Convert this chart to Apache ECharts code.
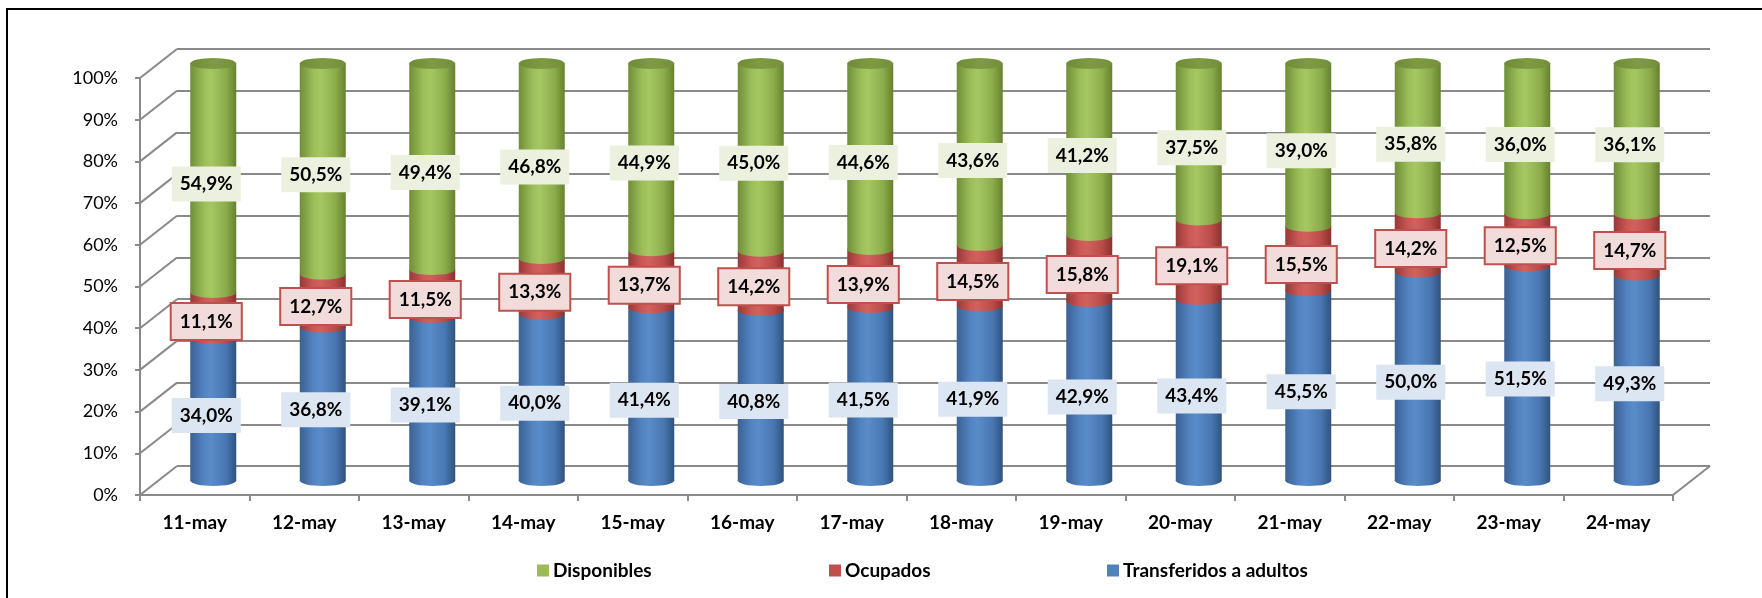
<!DOCTYPE html>
<html><head><meta charset="utf-8">
<script src="https://cdn.jsdelivr.net/npm/echarts@6/dist/echarts.min.js"></script>
<style>html,body{margin:0;padding:0;background:#fff}#c{width:1762px;height:598px}</style>
</head><body><div id="c"></div>
<script>
const categories = ['11-may','12-may','13-may','14-may','15-may','16-may','17-may','18-may','19-may','20-may','21-may','22-may','23-may','24-may'];
const disponibles  = [54.9, 50.5, 49.4, 46.8, 44.9, 45.0, 44.6, 43.6, 41.2, 37.5, 39.0, 35.8, 36.0, 36.1];
const ocupados     = [11.1, 12.7, 11.5, 13.3, 13.7, 14.2, 13.9, 14.5, 15.8, 19.1, 15.5, 14.2, 12.5, 14.7];
const transferidos = [34.0, 36.8, 39.1, 40.0, 41.4, 40.8, 41.5, 41.9, 42.9, 43.4, 45.5, 50.0, 51.5, 49.3];
const yTicks = [0, 10, 20, 30, 40, 50, 60, 70, 80, 90, 100];
const seriesNames = ['Transferidos a adultos', 'Ocupados', 'Disponibles'];

const FONT = 'Lato';
const GRID_COLOR = '#898989';
const FRONT = {left: 140, top: 78, width: 1533, height: 417};
const DX = 37, DY = -29;

const stackOrder = [transferidos, ocupados, disponibles];
const styles = [
  {base: '#4F81BD', stops: ['#3A6193', '#5384C2', '#5A8CCA', '#4876B0', '#30527F'], labelBg: '#DCE6F2', labelBorder: null},
  {base: '#C0504D', stops: ['#983937', '#CC5855', '#D2615E', '#B84B48', '#8A3230'], labelBg: '#F2DCDB', labelBorder: '#C0504D'},
  {base: '#9BBB59', stops: ['#718E38', '#9BBE58', '#A6C863', '#8CAC4C', '#66812D'], labelBg: '#EBF1DE', labelBorder: null}
];

function fmt(v) { return v.toFixed(1).replace('.', ',') + '%'; }

function grad(stops) {
  return new echarts.graphic.LinearGradient(0, 0, 1, 0, [
    {offset: 0, color: stops[0]}, {offset: 0.3, color: stops[1]}, {offset: 0.45, color: stops[2]},
    {offset: 0.78, color: stops[3]}, {offset: 1, color: stops[4]}
  ]);
}

function cylSeries(si) {
  const vals = stackOrder[si];
  const st = styles[si];
  const isTop = si === stackOrder.length - 1;
  const data = categories.map((c, i) => {
    let tot = 0; stackOrder.forEach(a => tot += a[i]);
    let base = 0; for (let k = 0; k < si; k++) base += stackOrder[k][i];
    return [i, base / tot * 100, (base + vals[i]) / tot * 100, vals[i]];
  });
  return {
    type: 'custom', name: seriesNames[si], xAxisIndex: 2, yAxisIndex: 2, data: data,
    itemStyle: {color: st.base},
    renderItem: function (params, api) {
      const i = api.value(0);
      const pb = api.coord([i, api.value(1)]);
      const pt = api.coord([i, api.value(2)]);
      const R = 23, RY = 5.5;
      const cx = pb[0];
      const z2 = si + 1;
      const children = [
        {type: 'rect', shape: {x: cx - R, y: pt[1], width: 2 * R, height: pb[1] - pt[1]}, style: {fill: grad(st.stops)}, z2: z2},
        {type: 'circle', x: cx, y: pb[1], scaleY: RY / R, shape: {cx: 0, cy: 0, r: R}, style: {fill: grad(st.stops)}, z2: z2}
      ];
      if (isTop) {
        children.push({type: 'circle', x: cx, y: pt[1], scaleY: RY / R, shape: {cx: 0, cy: 0, r: R},
          style: {fill: new echarts.graphic.LinearGradient(0, 0, 1, 0, [{offset: 0, color: '#6F8B37'}, {offset: 0.5, color: '#7E9B42'}, {offset: 1, color: '#748F3A'}])}, z2: z2});
      }
      const ts = {
        text: fmt(api.value(3)), fill: '#000', fontFamily: FONT, fontWeight: 'bold', fontSize: 19,
        lineHeight: 21, align: 'center', verticalAlign: 'middle', backgroundColor: st.labelBg, padding: [7, 8]
      };
      if (st.labelBorder) { ts.borderColor = st.labelBorder; ts.borderWidth = 2; }
      children.push({type: 'text', x: cx - 7, y: (pb[1] + pt[1]) / 2 + 6, style: ts, z2: 50});
      return {type: 'group', children: children};
    }
  };
}

const chart = echarts.init(document.getElementById('c'), null, {renderer: 'canvas'});
const hiddenX = {type: 'category', data: categories, show: false};

function legendFor(name, left) {
  return {
    data: [name], left: left, top: 561, padding: 0, icon: 'rect', itemWidth: 12, itemHeight: 12, itemGap: 4,
    selectedMode: false,
    textStyle: {fontFamily: FONT, fontWeight: 'bold', fontSize: 19, color: '#000', padding: [0, 0, 0, -1]}
  };
}

chart.setOption({
  backgroundColor: '#fff',
  animation: false,
  graphic: [{type: 'rect', shape: {x: 7, y: 9, width: 1800, height: 700}, style: {fill: 'none', stroke: '#000', lineWidth: 2}, silent: true}],
  legend: [legendFor('Disponibles', 537), legendFor('Ocupados', 829), legendFor('Transferidos a adultos', 1107)],
  grid: [
    {left: FRONT.left, top: FRONT.top, width: FRONT.width, height: FRONT.height},
    {left: FRONT.left + DX, top: FRONT.top + DY, width: FRONT.width, height: FRONT.height},
    {left: FRONT.left + DX / 2, top: FRONT.top + DY / 2, width: FRONT.width, height: FRONT.height}
  ],
  xAxis: [
    {type: 'category', data: categories, gridIndex: 0,
     axisLine: {show: true, lineStyle: {color: GRID_COLOR, width: 2}},
     axisTick: {show: true, length: 6, lineStyle: {color: GRID_COLOR, width: 2}},
     axisLabel: {fontFamily: FONT, fontWeight: 'bold', fontSize: 19, color: '#000', margin: 18}},
    Object.assign({gridIndex: 1}, hiddenX),
    Object.assign({gridIndex: 2}, hiddenX)
  ],
  yAxis: [
    {type: 'value', gridIndex: 0, min: 0, max: 100, interval: 10,
     axisLine: {show: true, lineStyle: {color: GRID_COLOR, width: 2}},
     axisTick: {show: true, length: 5, lineStyle: {color: GRID_COLOR, width: 2}},
     splitLine: {show: false},
     axisLabel: {formatter: '{value}%', fontFamily: FONT, fontSize: 18, color: '#000', margin: 22, padding: [5, 0, 0, 0]}},
    {type: 'value', gridIndex: 1, min: 0, max: 100, interval: 10,
     axisLine: {show: false}, axisTick: {show: false}, axisLabel: {show: false},
     splitLine: {show: true, lineStyle: {color: GRID_COLOR, width: 2}}},
    {type: 'value', gridIndex: 2, min: 0, max: 100, show: false}
  ],
  series: [
    {type: 'custom', xAxisIndex: 0, yAxisIndex: 0, silent: true, data: yTicks.map(v => [0, v]),
     renderItem: function (params, api) {
       const v = api.value(1);
       const p = api.coord([0, v]);
       const band = api.size([1, 0])[0];
       const x0 = p[0] - band / 2;
       const ch = [{type: 'line', shape: {x1: x0, y1: p[1], x2: x0 + DX, y2: p[1] + DY}, style: {stroke: GRID_COLOR, lineWidth: 2}}];
       if (v === 0) {
         const xr = x0 + band * categories.length;
         ch.push({type: 'line', shape: {x1: xr, y1: p[1], x2: xr + DX, y2: p[1] + DY}, style: {stroke: GRID_COLOR, lineWidth: 2}});
       }
       return {type: 'group', children: ch};
     }},
    cylSeries(0), cylSeries(1), cylSeries(2)
  ]
});
</script>
</body></html>
